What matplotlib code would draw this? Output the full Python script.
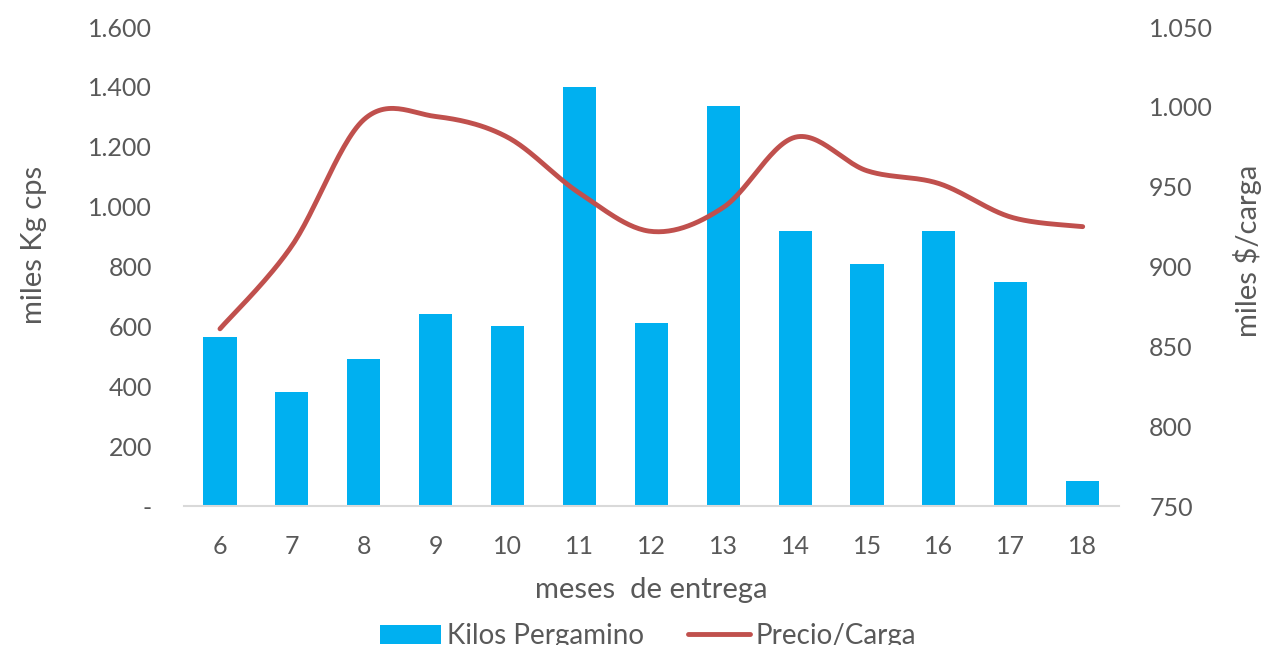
import numpy as np
import matplotlib
matplotlib.use("Agg")
import matplotlib.pyplot as plt
from matplotlib.ticker import FuncFormatter, MultipleLocator
from matplotlib.lines import Line2D
from matplotlib.patches import Patch

meses = [6, 7, 8, 9, 10, 11, 12, 13, 14, 15, 16, 17, 18]
kilos = [565, 380, 490, 643, 603, 1400, 613, 1337, 920, 807, 920, 747, 83]
precio = [861, 913, 992, 994, 981, 946, 922, 937, 981, 960, 952, 931, 925]

plt.rcParams['font.family'] = ['Lato', 'DejaVu Sans']
GRAY = '#595959'
W, H = 1264, 645

def smooth(x, y, n=30, t=1/6):
    x = np.asarray(x, float); y = np.asarray(y, float)
    xs, ys = [], []
    for i in range(len(x) - 1):
        p0 = np.array([x[max(i - 1, 0)], y[max(i - 1, 0)]])
        p1 = np.array([x[i], y[i]])
        p2 = np.array([x[i + 1], y[i + 1]])
        p3 = np.array([x[min(i + 2, len(x) - 1)], y[min(i + 2, len(x) - 1)]])
        c1 = p1 + (p2 - p0) * t
        c2 = p2 - (p3 - p1) * t
        s = np.linspace(0, 1, n)[:, None]
        pts = ((1 - s) ** 3) * p1 + 3 * ((1 - s) ** 2) * s * c1 + 3 * (1 - s) * s ** 2 * c2 + s ** 3 * p2
        xs.extend(pts[:, 0]); ys.extend(pts[:, 1])
    return np.array(xs), np.array(ys)

fig = plt.figure(figsize=(12.64, 6.45), dpi=100)
ax = fig.add_axes([0.1456, 0.2155, 0.7394, 0.7425])
ax.bar(meses, kilos, width=0.46, color='#00B0F0', zorder=2)
ax.set_xlim(5.5, 18.5)
ax.set_ylim(0, 1600)
ax.yaxis.set_major_locator(MultipleLocator(200))

def fmt_left(v, p):
    if v == 0:
        return '-'
    return f"{int(v):,}".replace(',', '.')

def fmt_right(v, p):
    return f"{int(v):,}".replace(',', '.')

ax.yaxis.set_major_formatter(FuncFormatter(fmt_left))
ax.set_xticks(meses)
ax.set_xticklabels([str(m) for m in meses])
for s in ['top', 'right', 'left']:
    ax.spines[s].set_visible(False)
ax.spines['bottom'].set_color('#D9D9D9')
ax.spines['bottom'].set_linewidth(1.5)
ax.tick_params(axis='both', length=0, labelsize=18, colors=GRAY)
ax.tick_params(axis='y', pad=23)
ax.tick_params(axis='x', pad=21)

ax2 = ax.twinx()
xs, ys = smooth(meses, precio)
ax2.plot(xs, ys, color='#C0504D', lw=3.5, solid_capstyle='round', zorder=3)
ax2.set_ylim(750, 1050)
ax2.yaxis.set_major_locator(MultipleLocator(50))
ax2.yaxis.set_major_formatter(FuncFormatter(fmt_right))
for s in ['top', 'right', 'left', 'bottom']:
    ax2.spines[s].set_visible(False)
ax2.tick_params(axis='y', length=0, labelsize=18, colors=GRAY, pad=22)

fig.text(34 / W, 1 - 245 / H, 'miles Kg cps', rotation=90, ha='center', va='center',
         fontsize=21, color=GRAY)
fig.text(1247 / W, 1 - 251 / H, 'miles $/carga', rotation=90, ha='center', va='center',
         fontsize=21, color=GRAY)
fig.text(651 / W, 1 - 590 / H, 'meses  de entrega', ha='center', va='center',
         fontsize=21, color=GRAY)

handles = [Patch(facecolor='#00B0F0', edgecolor='none'),
           Line2D([0], [0], color='#C0504D', lw=3.5, solid_capstyle='round')]
fig.legend(handles, ['Kilos Pergamino', 'Precio/Carga'], loc='center',
           bbox_to_anchor=(648 / W, 1 - 636 / H), ncol=2, frameon=False, fontsize=20,
           labelcolor=GRAY, handlelength=2.2, handletextpad=0.2, columnspacing=1.6)

fig.savefig('out.png', dpi=100)
